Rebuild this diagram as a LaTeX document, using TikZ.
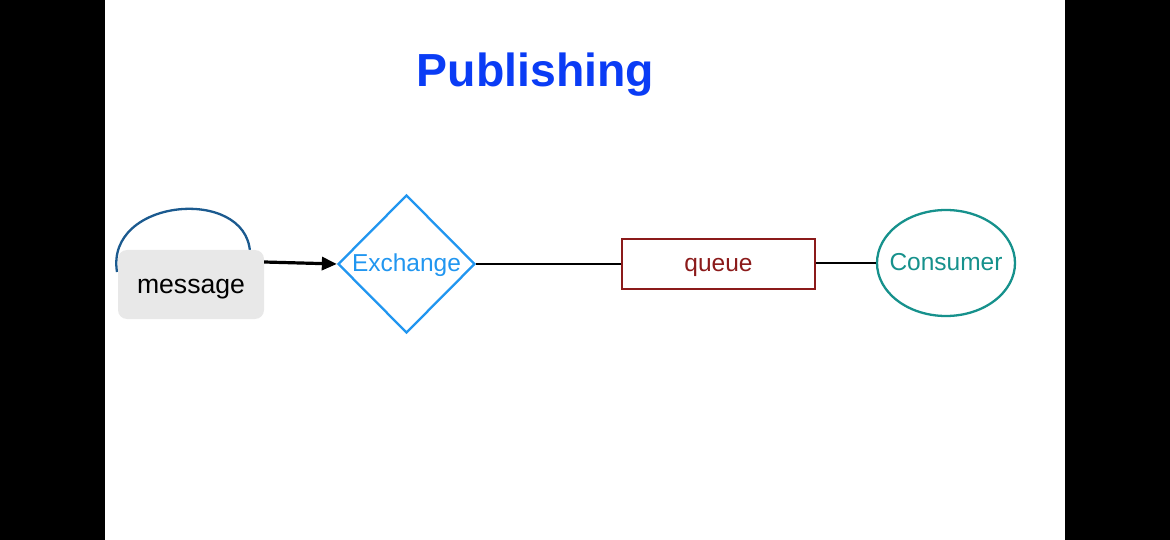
\documentclass[tikz,border=0pt]{standalone}
\usepackage{fontspec}
\setmainfont{Liberation Sans}
\usetikzlibrary{shapes.geometric,arrows.meta}
\definecolor{titleblue}{HTML}{0A3CF5}
\definecolor{loopblue}{HTML}{1B5A8F}
\definecolor{exblue}{HTML}{2196F0}
\definecolor{qred}{HTML}{8B1A1A}
\definecolor{teal}{HTML}{16918C}
\definecolor{msggray}{HTML}{E8E8E8}
\begin{document}
\begin{tikzpicture}[x=1pt,y=-1pt,
  lbl/.style={font=\fontsize{24.5}{26}\selectfont, inner sep=0pt, anchor=base},
  conn/.style={draw=black, line width=2pt}]
\useasboundingbox (0,0) rectangle (1170,540);
\fill[black] (0,0) rectangle (105,540);
\fill[black] (1065,0) rectangle (1170,540);
\node[font=\bfseries\fontsize{46.4}{50}\selectfont, text=titleblue, inner sep=0pt, anchor=base] (title) at (535.5,87) {Publishing};
% loop arc behind the message
\draw[loopblue, line width=2.3pt] (117,272) .. controls (105,198) and (246,186) .. (250,252);
\node[draw=none, fill=msggray, rounded corners=9pt, minimum width=146pt, minimum height=69pt, inner sep=0pt] (msg) at (191,284.5) {};
\node[lbl, font=\fontsize{26.6}{28}\selectfont] (msgt) at (191,293) {message};
\node[diamond, draw=exblue, line width=2.3pt, minimum width=137pt, minimum height=138pt, inner sep=0pt, aspect=1] (ex) at (406.5,264) {};
\node[lbl, text=exblue] (ext) at (406.5,272) {Exchange};
\node[draw=qred, line width=2.3pt, minimum width=193pt, minimum height=50pt, inner sep=0pt] (q) at (718.5,264) {};
\node[lbl, text=qred] (qt) at (718.5,272) {queue};
\node[ellipse, draw=teal, line width=2.3pt, minimum width=138pt, minimum height=106pt, inner sep=0pt] (c) at (946,263) {};
\node[lbl, text=teal] (ct) at (946,270) {Consumer};
\draw[line width=3.2pt, -{Triangle[length=15pt,width=13pt]}] (msg.east |- 0,262) -- (ex.west);
\draw[conn] (ex.east) -- (q.west);
\draw[conn] (q.east |- 0,263) -- (c.west);
\end{tikzpicture}
\end{document}
